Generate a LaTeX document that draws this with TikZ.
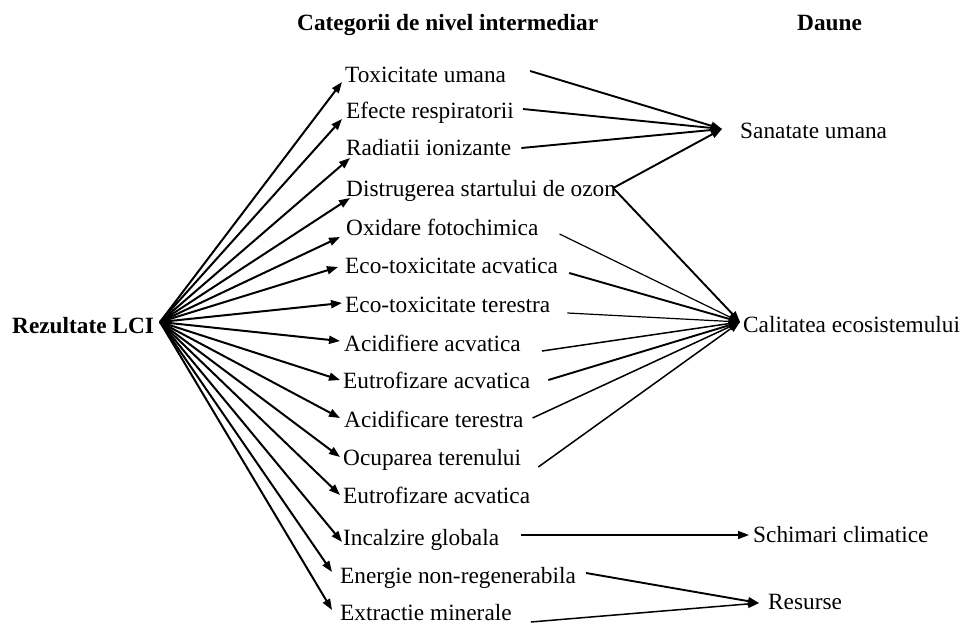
\documentclass[tikz,border=0pt]{standalone}
\usepackage{fontspec}
\setmainfont{Liberation Serif}
\usetikzlibrary{arrows.meta}
\begin{document}
\begin{tikzpicture}[x=1pt,y=-1pt,
  lbl/.style={anchor=base west,inner sep=0pt,font=\fontsize{23.3}{28}\selectfont},
  hdr/.style={anchor=base west,inner sep=0pt,font=\fontsize{23.3}{28}\selectfont\bfseries},
  tip/.style={-{Triangle[length=11pt,width=8pt]}},
  fan/.style={tip,line width=2pt},
  thk/.style={tip,line width=1.9pt},
  mid/.style={tip,line width=1.5pt},
  thn/.style={tip,line width=1.2pt}]
\useasboundingbox (0,0) rectangle (964,624);

% column headings
\node[hdr] (h1) at (297,30) {Categorii de nivel intermediar};
\node[hdr] (h2) at (797,30) {Daune};

% source
\node[hdr] (lci) at (12,333) {Rezultate LCI};
\coordinate (o) at (160,322);

% midpoint categories
\node[lbl] (t1)  at (345,82)  {Toxicitate umana};
\node[lbl] (t2)  at (346,118) {Efecte respiratorii};
\node[lbl] (t3)  at (346,155) {Radiatii ionizante};
\node[lbl] (t4)  at (346,196) {Distrugerea startului de ozon};
\node[lbl] (t5)  at (346,235) {Oxidare fotochimica};
\node[lbl] (t6)  at (345,273) {Eco-toxicitate acvatica};
\node[lbl] (t7)  at (345,312) {Eco-toxicitate terestra};
\node[lbl] (t8)  at (344,351) {Acidifiere acvatica};
\node[lbl] (t9)  at (343,388) {Eutrofizare acvatica};
\node[lbl] (t10) at (344,427) {Acidificare terestra};
\node[lbl] (t11) at (343,465) {Ocuparea terenului};
\node[lbl] (t12) at (343,503) {Eutrofizare acvatica};
\node[lbl] (t13) at (343,545) {Incalzire globala};
\node[lbl] (t14) at (340,583) {Energie non-regenerabila};
\node[lbl] (t15) at (340,620) {Extractie minerale};

% damage categories
\node[lbl] (d1) at (740,138) {Sanatate umana};
\node[lbl] (d2) at (743,332) {Calitatea ecosistemului};
\node[lbl] (d3) at (753,542) {Schimari climatice};
\node[lbl] (d4) at (768,609) {Resurse};

\coordinate (s1) at ([shift={(-18,-9)}]d1.base west);
\coordinate (s2) at ([shift={(-3,-10)}]d2.base west);
\coordinate (s3) at ([shift={(-4,-7)}]d3.base west);
\coordinate (s4) at ([shift={(-9,-6)}]d4.base west);

% fan from the inventory results
\draw[fan] (o) -- ([shift={(-3,0)}]t1.base west);
\draw[fan] (o) -- ([shift={(-4,1)}]t2.base west);
\draw[fan] (o) -- ([shift={(4,3)}]t3.base west);
\draw[fan] (o) -- ([shift={(4,2)}]t4.base west);
\draw[fan] (o) -- ([shift={(-6,2)}]t5.base west);
\draw[fan] (o) -- ([shift={(-7,-6)}]t6.base west);
\draw[fan] (o) -- ([shift={(-3,-9)}]t7.base west);
\draw[fan] (o) -- ([shift={(-4,-10)}]t8.base west);
\draw[fan] (o) -- ([shift={(-3,-8)}]t9.base west);
\draw[fan] (o) -- ([shift={(-4,-9)}]t10.base west);
\draw[fan] (o) -- ([shift={(-3,-8)}]t11.base west);
\draw[fan] (o) -- ([shift={(-3,-8)}]t12.base west);
\draw[fan] (o) -- ([shift={(-1,-3)}]t13.base west);
\draw[fan] (o) -- ([shift={(-8,-11)}]t14.base west);
\draw[fan] (o) -- ([shift={(-8,-10)}]t15.base west);

% midpoint to damage links
\draw[thk] ([shift={(24,-11)}]t1.base east) -- (s1);
\draw[thk] ([shift={(9,-9)}]t2.base east) -- (s1);
\draw[thk] ([shift={(10,-7)}]t3.base east) -- (s1);
\draw[thk] ([shift={(-3,-8)}]t4.base east) -- (s1);
\draw[thk] ([shift={(-3,-8)}]t4.base east) -- (s2);
\draw[thn] ([shift={(21,-1)}]t5.base east) -- (s2);
\draw[thk] ([shift={(11,0)}]t6.base east) -- (s2);
\draw[thn] ([shift={(17,1)}]t7.base east) -- (s2);
\draw[mid] ([shift={(21,0)}]t8.base east) -- (s2);
\draw[thk] ([shift={(18,-8)}]t9.base east) -- (s2);
\draw[mid] ([shift={(9,-9)}]t10.base east) -- (s2);
\draw[mid] ([shift={(17,2)}]t11.base east) -- (s2);
\draw[mid] ([shift={(22,-10)}]t13.base east) -- (s3);
\draw[thk] ([shift={(10,-10)}]t14.base east) -- (s4);
\draw[mid] ([shift={(19,2)}]t15.base east) -- (s4);
\end{tikzpicture}
\end{document}
